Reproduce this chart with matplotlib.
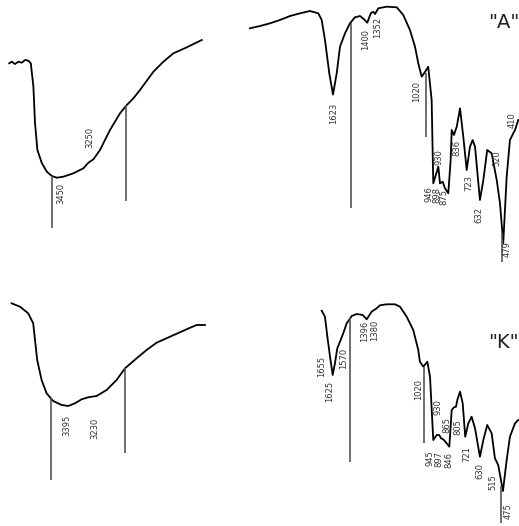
import matplotlib.pyplot as plt

# IR spectra of samples "A" and "K"; x = wavenumber (cm-1), y = transmittance (arb. units)

# ---- sample A, OH stretching region
a_oh_wn = [3664, 3651, 3635, 3618, 3601, 3585, 3568, 3556, 3543, 3535, 3523, 3501, 3476, 3451,
           3426, 3393, 3343, 3293, 3268, 3243, 3210, 3160, 3110, 3076, 3043, 3010, 2943, 2893,
           2843, 2776, 2701]
a_oh_t = [199.7, 201.3, 199, 201.3, 200.3, 203, 202.3, 199.7, 176.3, 140, 113, 100, 91.3, 87,
          85.3, 86.3, 89.7, 94.7, 100.3, 103.7, 113, 133, 149.7, 158, 164.7, 173, 191.3, 201.3,
          209.7, 215.7, 223]

# ---- sample A, fingerprint region
a_fp_wn = [2182, 2114, 2047, 1980, 1912, 1845, 1778, 1722, 1699, 1677, 1648, 1623, 1598, 1576,
           1542, 1509, 1475, 1441, 1414, 1392, 1369, 1352, 1340, 1318, 1262, 1194, 1150, 1105,
           1071, 1049, 1026, 1004, 982, 959, 948, 914, 903, 885, 869, 847, 831, 824, 809, 790,
           768, 746, 723, 701, 683, 667, 634, 611, 585, 555, 521, 499, 477, 454, 432, 398, 376]
a_fp_t = [234.7, 237, 239.7, 243, 247, 249.7, 252, 249.7, 243, 223, 189.7, 168.5, 189.7, 216.3,
          229.7, 239.7, 245.7, 247, 243.7, 240.3, 249.7, 251.3, 249, 254.7, 256.3, 255.7, 248, 233,
          216.3, 199.7, 186.3, 191, 196.3, 163, 79.7, 96.3, 79.7, 81.3, 74.7, 69.7, 103, 133, 128,
          136.3, 154.7, 126.3, 93, 116.3, 123, 116.3, 63, 83, 113, 109.7, 83, 59.7, 20, 86.3,
          123, 133, 143]

# ---- sample K, OH stretching region
k_oh_wn = [3652, 3610, 3569, 3544, 3535, 3524, 3502, 3477, 3444, 3402, 3369, 3335, 3302, 3269,
           3227, 3177, 3127, 3085, 3027, 2977, 2927, 2860, 2777, 2727, 2685]
k_oh_t = [222.7, 219.3, 212.7, 202.7, 186, 166, 146, 132.7, 125, 121, 120, 122.7, 126.7, 128.7,
          130, 136, 146, 157.7, 167.7, 176, 183.3, 189.3, 196.7, 201, 201]

# ---- sample K, fingerprint region
k_fp_wn = [1699, 1677, 1661, 1643, 1625, 1610, 1594, 1576, 1554, 1531, 1497, 1463, 1423, 1396,
           1385, 1363, 1329, 1307, 1262, 1206, 1172, 1127, 1083, 1049, 1038, 1015, 988, 970,
           948, 925, 908, 896, 881, 858, 840, 824, 809, 795, 786, 768, 750, 733, 712, 690, 667,
           634, 611, 585, 555, 533, 511, 479, 454, 432, 398, 376]
k_fp_t = [215.3, 209.3, 189.3, 169.3, 151, 162.7, 177.7, 184.3, 192.7, 202.7, 210, 212, 211, 206.7,
          209.3, 214.3, 217.7, 220.7, 221.7, 221.7, 219.3, 209.3, 196, 176, 164.3, 159.3, 164.3,
          149.3, 86, 91, 91, 87.7, 86.7, 82.7, 79.3, 116, 118.7, 119.3, 126, 134.3, 122.7, 89.3,
          102.7, 109.3, 97.7, 69.3, 86, 101, 92.7, 67.7, 61, 35, 66, 89.3, 102.7, 106]

# marker lines: (wavenumber, top, bottom)
a_oh_lines = [(3450, 87, 35), (3080, 158, 62)]
a_fp_lines = [(1502, 240, 55), (999, 190, 126), (488, 30, 1)]
k_oh_lines = [(3455, 128, 46), (3085, 157.7, 73)]
k_fp_lines = [(1509, 208, 64), (1009, 159, 83), (492, 40, 3)]

# peak labels: (text, wavenumber, y)
a_oh_labels = [("3450", 3405, 70), ("3250", 3260, 126)]
a_fp_labels = [("1623", 1616, 150), ("1400", 1401, 223), ("1352", 1322, 236), ("1020", 1060, 172),
               ("930", 910, 106), ("946", 979, 69), ("898", 927, 68), ("875", 874, 66),
               ("836", 790, 115), ("723", 712, 80), ("632", 638, 48), ("520", 517, 105),
               ("479", 452, 14), ("410", 420, 143)]
k_oh_labels = [("3395", 3374, 101), ("3230", 3235, 98)]
k_fp_labels = [("1655", 1699, 160), ("1625", 1648, 135), ("1570", 1554, 168), ("1396", 1412, 195),
               ("1380", 1340, 196), ("1020", 1049, 137), ("930", 918, 119), ("945", 972, 68),
               ("897", 910, 67), ("846", 845, 66), ("865", 858, 101), ("805", 781, 99),
               ("721", 723, 72), ("630", 634, 55), ("515", 544, 44), ("475", 443, 15)]

W, H = 519, 526
fig = plt.figure(figsize=(W / 100, H / 100), dpi=100)

oh_xlim = (3710, 2635)
fp_xlim = (2249, 371)
panels = [
    # rect in figure fraction, xlim, curve, lines, labels
    ([0, 0.5, 215 / W, 0.5], oh_xlim, (a_oh_wn, a_oh_t), a_oh_lines, a_oh_labels),
    ([240 / W, 0.5, 279 / W, 0.5], fp_xlim, (a_fp_wn, a_fp_t), a_fp_lines, a_fp_labels),
    ([0, 0, 215 / W, 0.5], oh_xlim, (k_oh_wn, k_oh_t), k_oh_lines, k_oh_labels),
    ([240 / W, 0, 279 / W, 0.5], fp_xlim, (k_fp_wn, k_fp_t), k_fp_lines, k_fp_labels),
]

axes = []
for rect, xlim, (wn, t), lines, labels in panels:
    ax = fig.add_axes(rect)
    ax.set_xlim(*xlim)
    ax.set_ylim(0, 263)
    ax.axis('off')
    ax.plot(wn, t, color='black', linewidth=1.3, solid_joinstyle='round')
    for x, y0, y1 in lines:
        ax.vlines(x, y1, y0, color='#555555', linewidth=1.2)
    for txt, x, y in labels:
        ax.text(x, y, txt, rotation=90, ha='center', va='center', fontsize=6,
                color='#333333')
    axes.append(ax)

axes[1].text(474, 241, '"A"', ha='center', va='center', fontsize=14, color='#222222')
axes[3].text(474, 183, '"K"', ha='center', va='center', fontsize=14, color='#222222')

fig.savefig('out.png', dpi=100)
